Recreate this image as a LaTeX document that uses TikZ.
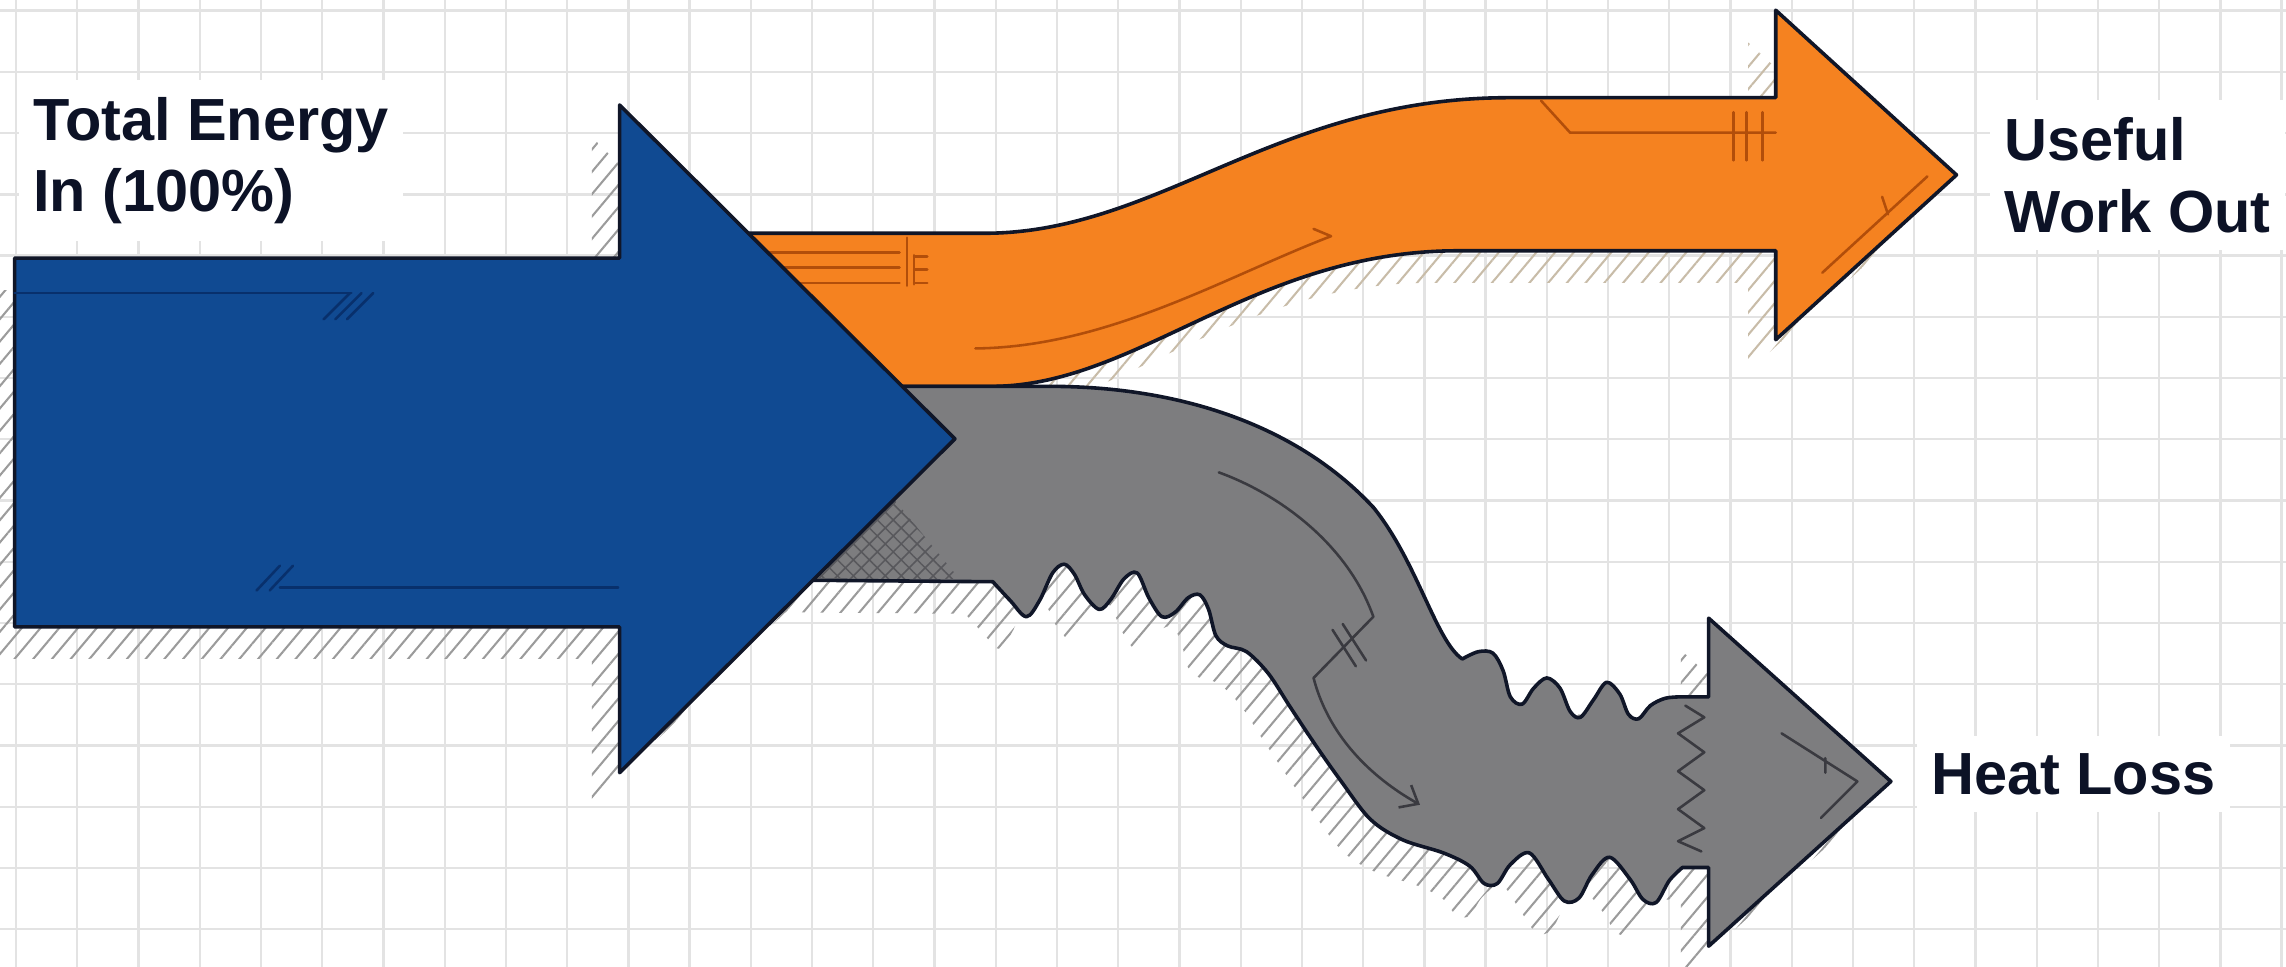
\documentclass[tikz,border=0pt]{standalone}
\usepackage{fontspec}
\setmainfont{Liberation Sans}
\usetikzlibrary{patterns.meta, arrows.meta}
\definecolor{bluefill}{RGB}{16,74,146}
\definecolor{orangefill}{RGB}{245,130,32}
\definecolor{grayfill}{RGB}{125,125,127}
\definecolor{outline}{RGB}{16,22,40}
\definecolor{txt}{RGB}{12,18,38}
\definecolor{gridc}{RGB}{227,227,227}
\definecolor{hatchc}{RGB}{155,155,155}
\definecolor{hatcho}{RGB}{200,188,168}
\definecolor{bluedeco}{RGB}{8,48,108}
\definecolor{orangedeco}{RGB}{178,78,10}
\definecolor{graydeco}{RGB}{58,58,64}
\definecolor{xhatch}{RGB}{88,88,92}
\begin{document}
\begin{tikzpicture}[x=0.01cm, y=-0.01cm,
  gridline/.style={draw=gridc, line width=0.45pt},
  shadowhatch/.style={pattern={Lines[angle=50,distance=2.8pt,line width=0.4pt]}, pattern color=hatchc},
  shadowhatcho/.style={pattern={Lines[angle=50,distance=2.8pt,line width=0.4pt]}, pattern color=hatcho},
  shapeline/.style={draw=outline, line width=0.7pt, line join=round},
  deco/.style={line width=0.5pt, line cap=round, line join=round},
  lbl/.style={fill=white, text=txt, font=\fontsize{11.6}{13.9}\selectfont\bfseries, align=left, inner xsep=0.1cm, inner ysep=0.12cm, anchor=north west},
  bluepath/.style={insert path={(10,177) -- (425,177) -- (425,72) -- (655,301) -- (425,530) -- (425,430) -- (10,430) -- cycle}},
  orangepath/.style={insert path={(480,160) -- (675,160) .. controls (795,160) and (875,67) .. (1035,67) -- (1218,67) -- (1218,7) -- (1342,120) -- (1218,233) -- (1218,172) -- (1000,172) .. controls (860,172) and (780,265) .. (680,265) -- (480,265) -- cycle}},
  graypath/.style={insert path={(555,265) -- (720,265) .. controls (810,265) and (890,292) .. (942,348) .. controls (972,385) and (985,440) .. (1003,452)
    -- plot[smooth, tension=0.55] coordinates {(1003,452) (1014,447) (1024,448) (1031,460) (1036,478) (1044,483) (1052,472) (1061,465) (1070,472) (1077,488) (1084,492) (1093,480) (1102,468) (1111,476) (1117,490) (1124,493) (1132,484) (1142,479) (1152,478)}
    -- (1172,478) -- (1172,424) -- (1297,536) -- (1172,649) -- (1172,595) -- (1154,595)
    -- plot[smooth, tension=0.55] coordinates {(1154,595) (1145,604) (1136,619) (1127,617) (1118,603) (1104,588) (1092,600) (1083,616) (1073,618) (1062,603) (1049,585) (1036,593) (1027,606) (1018,606) (1008,594) (990,585) (962,576) (940,562) (920,536) (903,512) (885,485) (870,462) (855,447) (842,443) (834,436) (829,418) (823,408) (815,410) (806,420) (797,423) (788,410) (780,393) (771,397) (762,411) (754,418) (744,408) (737,394) (730,387) (722,393) (713,412) (704,423) (693,412) (681,399)}
    -- (557,398) -- cycle}}
]
% background and grid
\fill[white] (0,0) rectangle (1568,663);
\useasboundingbox (0,0) rectangle (1568,663);
\foreach \gx in {0,...,37} \draw[gridline] ({11+42*\gx},0) -- ({11+42*\gx},663);
\foreach \gy in {0,...,15} \draw[gridline] (0,{7.3+42*\gy}) -- (1568,{7.3+42*\gy});

% hatched shadows
\begin{scope}[shift={(-19,22)}]
  \fill[shadowhatch, bluepath];
  \fill[shadowhatcho, orangepath];
  \fill[shadowhatch, graypath];
\end{scope}

% orange arrow (useful work)
\filldraw[fill=orangefill, shapeline, orangepath];
\draw[deco, orangedeco] (510,173) -- (617,173) (510,183.5) -- (617,183.5) (510,194) -- (617,194);
\draw[deco, orangedeco] (622,163) -- (622,196);
\draw[deco, orangedeco] (627,175) -- (627,195) (627,176) -- (636,176) (627,185) -- (636,185) (627,194) -- (636,194);
\draw[deco, orangedeco] (669,239) .. controls (760,238) and (840,190) .. (913,162) -- (901,157);
\draw[deco, orangedeco] (1057,69) -- (1077,91) -- (1218,91);
\draw[deco, orangedeco] (1189,77) -- (1189,110) (1198,77) -- (1198,110) (1209,77) -- (1209,110);
\draw[deco, orangedeco] (1250,187) -- (1322,121) (1291,135) -- (1295,147);

% gray arrow (heat loss)
\filldraw[fill=grayfill, shapeline, graypath];
\fill[pattern={Hatch[angle=45,distance=2.2pt,line width=0.3pt]}, pattern color=xhatch] (612,341) -- (658,397) -- (556,397) -- cycle;
\draw[deco, graydeco, -{Straight Barb[length=3pt,width=5pt]}] (836,324) .. controls (880,340) and (925,375) .. (942,423) -- (901,465) .. controls (910,500) and (935,530) .. (974,552);
\draw[deco, graydeco] (914,432) -- (930,457) (921,428) -- (937,453);
\draw[deco, graydeco] (1222,503) -- (1274,536) -- (1249,561) (1252,520) -- (1252,530);
\draw[deco, graydeco] (1156,484) -- (1169,492) -- (1151,503) -- (1169,516) -- (1151,529) -- (1169,542) -- (1151,555) -- (1169,568) -- (1151,577) -- (1167,584);

% blue arrow (total energy in)
\filldraw[fill=bluefill, shapeline, bluepath];
\draw[deco, bluedeco] (10,201) -- (241,201);
\draw[deco, bluedeco] (222,219) -- (240,201) (230,219) -- (248,201) (238,219) -- (256,201);
\draw[deco, bluedeco] (176,405) -- (192,388) (185,405) -- (201,388);
\draw[deco, bluedeco] (192,403) -- (424,403);

% labels
\node[lbl] (lblin) at (12,54) {Total Energy\\In (100\%)};
\node[lbl] (lblwork) at (1364,68) {Useful\\Work Out};
\node[lbl] (lblheat) at (1314,504) {Heat Loss};
\end{tikzpicture}
\end{document}
